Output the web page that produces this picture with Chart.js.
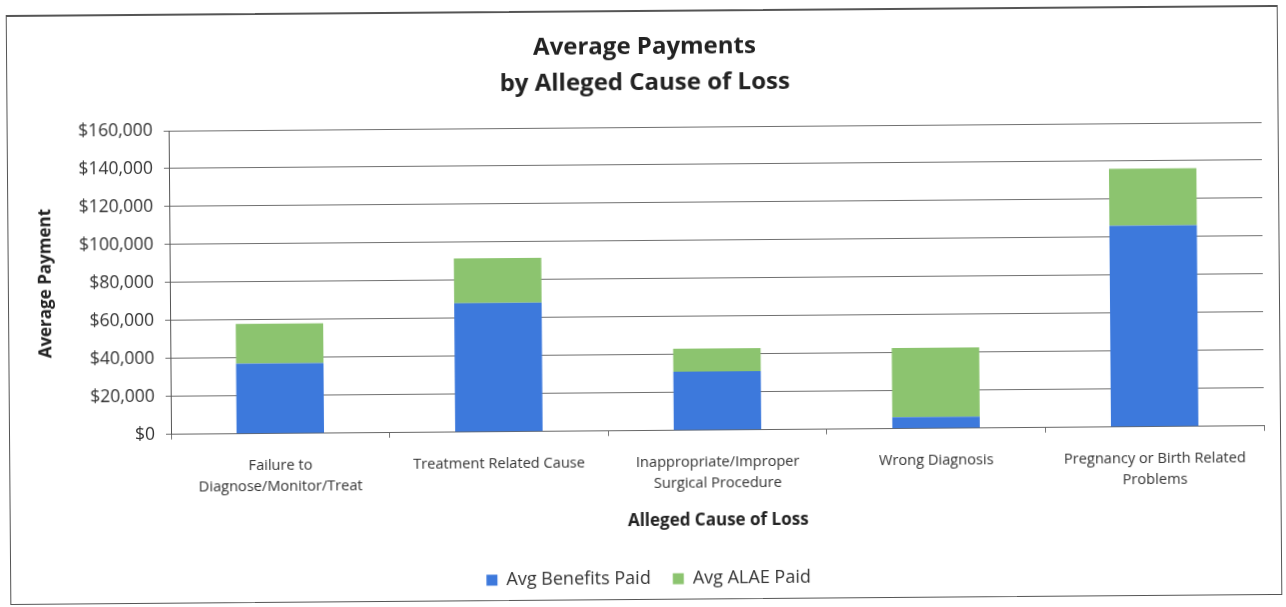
<!DOCTYPE html>
<html>
<head>
<meta charset="utf-8">
<script src="https://cdn.jsdelivr.net/npm/chart.js@4.4.1/dist/chart.umd.min.js"></script>
<style>
  html, body { margin: 0; padding: 0; background: #ffffff; overflow: hidden; }
  #frame {
    position: absolute; left: 0; top: 0; width: 1286px; height: 607px;
    transform: rotate(-0.45deg); transform-origin: 643px 303px;
  }
  #box {
    position: absolute; left: 8px; top: 10px; width: 1272px; height: 590px;
    border: 1.5px solid #555; border-top-width: 2px; box-sizing: border-box;
  }
  canvas { position: absolute; left: 0; top: 0; }
</style>
</head>
<body>
<div id="frame">
  <div id="box"></div>
  <canvas id="chart" width="1286" height="607"></canvas>
</div>
<script>
// Alleged causes of loss (multi-line category labels)
const categories = [
  ["Failure to", "Diagnose/Monitor/Treat"],
  "Treatment Related Cause",
  ["Inappropriate/Improper", "Surgical Procedure"],
  "Wrong Diagnosis",
  ["Pregnancy or Birth Related", "Problems"]
];
// Average amounts per cause, in dollars
const avgBenefitsPaid = [37000, 68000, 31000, 6000, 106000];
const avgAlaePaid     = [21000, 23500, 12000, 36500, 30000];
// Value axis ticks
const yTickValues = [0, 20000, 40000, 60000, 80000, 100000, 120000, 140000, 160000];

const fontFamily = "'Open Sans', Lato, sans-serif";
const fmtDollar = v => "$" + Number(v).toLocaleString("en-US");

new Chart(document.getElementById("chart"), {
  type: "bar",
  data: {
    labels: categories,
    datasets: [
      { label: "Avg Benefits Paid", data: avgBenefitsPaid, backgroundColor: "#3d79dc", borderWidth: 0 },
      { label: "Avg ALAE Paid", data: avgAlaePaid, backgroundColor: "#8cc46f", borderWidth: 0 }
    ]
  },
  options: {
    responsive: false,
    animation: false,
    layout: { padding: { left: 30, right: 23, top: 0, bottom: 9 } },
    datasets: { bar: { categoryPercentage: 1.0, barPercentage: 0.4 } },
    plugins: {
      title: {
        display: true,
        text: ["Average Payments", "by Alleged Cause of Loss"],
        color: "#222",
        font: { family: fontFamily, size: 24, weight: "bold", lineHeight: 1.5 },
        padding: { top: 29, bottom: 26 }
      },
      legend: {
        position: "bottom",
        labels: {
          color: "#333",
          font: { family: fontFamily, size: 18 },
          boxWidth: 11, boxHeight: 11, padding: 22
        }
      },
      tooltip: { enabled: false }
    },
    scales: {
      x: {
        stacked: true,
        afterFit: scale => { scale.height = 117.25; },
        grid: { display: true, drawOnChartArea: false, drawTicks: true, tickLength: 5, offset: true, color: "#777" },
        border: { display: true, color: "#666", width: 1 },
        ticks: {
          color: "#333", maxRotation: 0, autoSkip: false, padding: 17,
          font: { family: fontFamily, size: 14.6, lineHeight: 1.44 }
        },
        title: {
          display: true, text: "Alleged Cause of Loss", color: "#222",
          font: { family: fontFamily, size: 17, weight: "bold", lineHeight: 1.2 },
          padding: { top: 10, bottom: 17 }
        }
      },
      y: {
        stacked: true,
        min: 0, max: 160000,
        afterBuildTicks: scale => { scale.ticks = yTickValues.map(v => ({ value: v })); },
        afterFit: scale => { scale.width = 140; },
        grid: { color: "#707070", lineWidth: 1, tickLength: 5, drawTicks: true },
        border: { display: true, color: "#555", width: 1 },
        ticks: {
          color: "#333", padding: 11,
          font: { family: fontFamily, size: 17.5 },
          callback: v => fmtDollar(v)
        },
        title: {
          display: true, text: "Average Payment", color: "#222",
          font: { family: fontFamily, size: 17, weight: "bold", lineHeight: 1.2 },
          padding: { top: 5.8, bottom: 0 }
        }
      }
    }
  }
});
</script>
</body>
</html>
